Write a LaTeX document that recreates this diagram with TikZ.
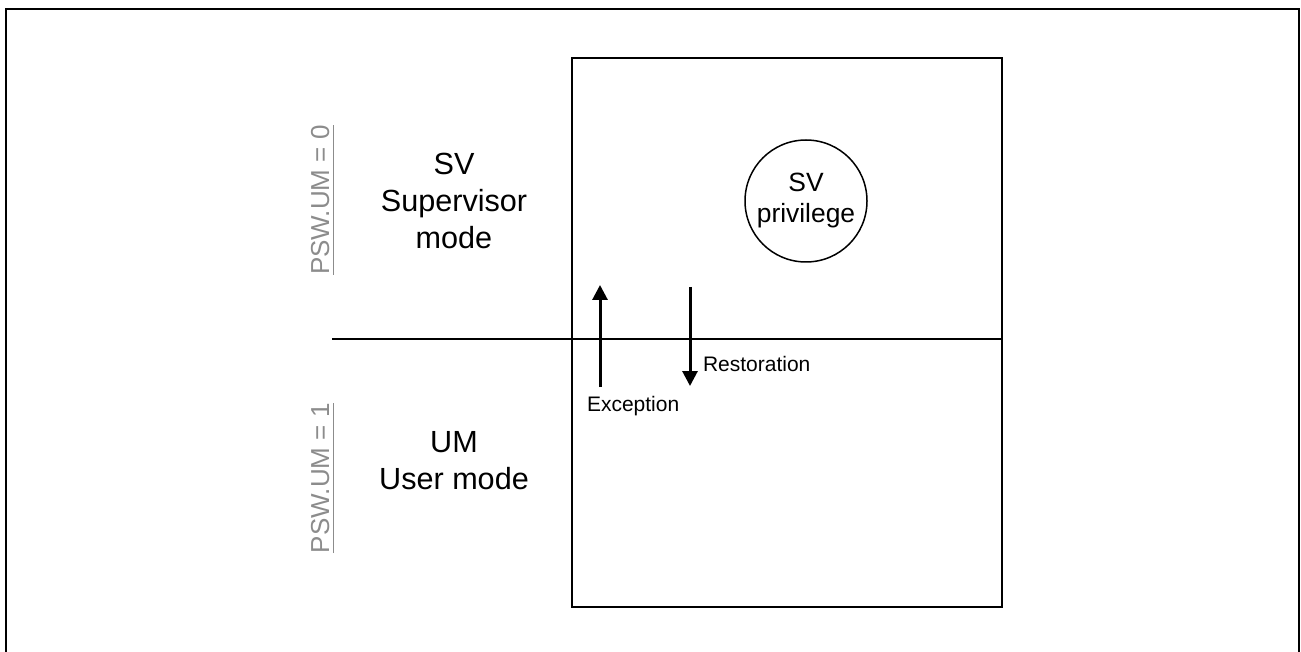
\documentclass[tikz,border=0pt]{standalone}
\usepackage{fontspec}
\setmainfont{Liberation Sans}
\usetikzlibrary{arrows.meta}
\definecolor{modeGray}{HTML}{8C8C8C}
\tikzset{
  mode diagram/.style={
    x=0.5pt, y=-0.5pt, line width=1pt, draw=black,
    every node/.style={text=black, inner sep=0pt, outer sep=0pt}
  },
  mode frame/.style={draw=black, line width=1.2pt},
  mode arrow/.style={line width=1.5pt,
    -{Triangle[length=7.5pt,width=7.5pt]}},
  mode name/.style={align=center,
    font=\fontsize{15.3}{18.5}\selectfont},
  mode bit/.style={text=modeGray, rotate=90,
    font=\fontsize{13}{15}\selectfont},
  mode note/.style={font=\fontsize{10.5}{12.6}\selectfont}
}
\newcommand{\ModeBit}[3]{%
  \node[mode bit, anchor=base west] (#1) at (329,#2) {#3};
  \draw[modeGray, line width=0.6pt] ([xshift=2]#1.south west) -- ([xshift=2]#1.south east);
}
\begin{document}
\begin{tikzpicture}[mode diagram]
  \useasboundingbox (0,0) rectangle (1301,652);
  % outer frame, open at the bottom
  \draw[mode frame] (6,700) -- (6,9) -- (1299,9) -- (1299,700);
  % privilege box and mode border
  \draw[mode frame] (572,58) rectangle (1002,607);
  \coordinate (border west) at (332,339);
  \coordinate (border east) at (1002,339);
  \draw[line width=0.75pt] (border west) -- (border east);
  % mode names
  \node[mode name] (sv name) at (454,201) {SV\\Supervisor\\mode};
  \node[mode name] (um name) at (454,461) {UM\\User mode};
  \node[draw, circle, line width=0.75pt, minimum size=61pt, align=center,
    font=\fontsize{13.2}{15.5}\selectfont] (sv priv) at (806,201) {SV\\privilege};
  % PSW.UM values
  \ModeBit{bit sv}{275}{PSW.UM = 0}
  \ModeBit{bit um}{553}{PSW.UM = 1}
  % transitions
  \coordinate (exc start) at (600,387);
  \coordinate (exc end) at (600,285);
  \coordinate (res start) at (690,287);
  \coordinate (res end) at (690,386);
  \draw[mode arrow] (exc start) -- (exc end);
  \draw[mode arrow] (res start) -- (res end);
  \node[mode note, anchor=west] (exc label) at (587,406) {Exception};
  \node[mode note, anchor=west] (res label) at (703,364) {Restoration};
\end{tikzpicture}
\end{document}
